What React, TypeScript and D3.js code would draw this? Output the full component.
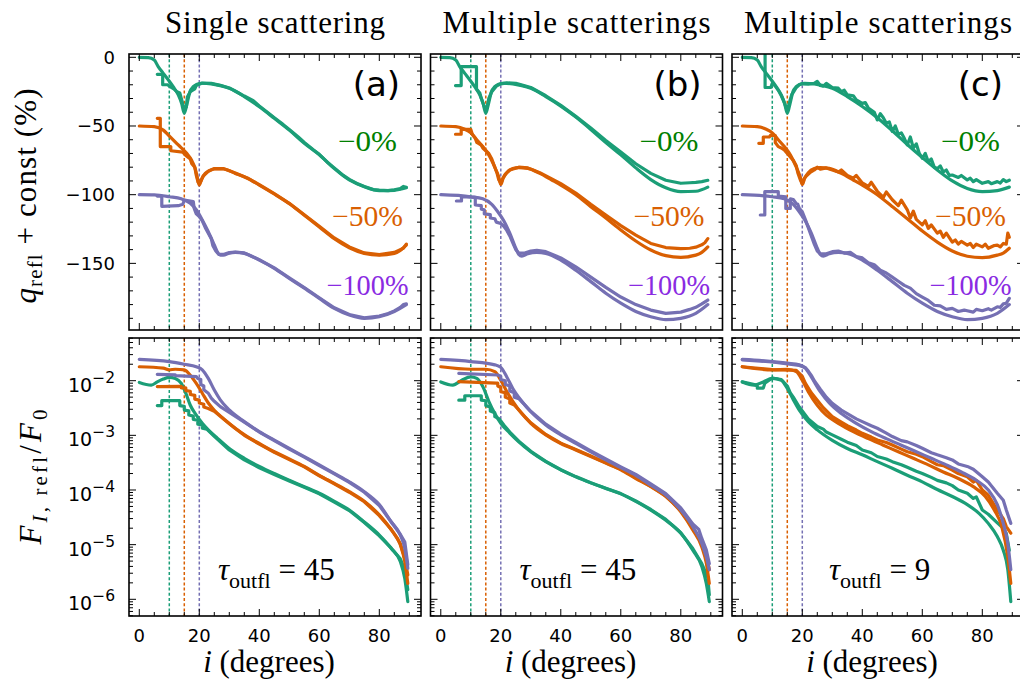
import React from "react";
import * as d3 from "d3";

type Pt = [number, number];

// ---------------- text / tick content ----------------
const panelTitles = ["Single scattering", "Multiple scatterings", "Multiple scatterings"];
const panelTags = ["(a)", "(b)", "(c)"];
const tauValues = ["45", "45", "9"];
const offsetLabels = ["\u22120%", "\u221250%", "\u2212100%"];
const cutoffAngles = [10, 15, 20];
const angleTicks = [0, 20, 40, 60, 80];
const qTicks = [0, -50, -100, -150];
const fluxExponents = [-2, -3, -4, -5, -6];

const SERIES_COLORS = ["#1b9e77", "#d95f02", "#7570b3"];
const LABEL_COLORS = ["#008000", "#d95f02", "#8a2be2"];

// ---------------- top row: q_refl + const (%) ----------------
// panel (a)
const qA_green_model: Pt[] = [[0,0],[3,-0.2],[5,-2],[6.3,-6.8],[8,-11.7],[9.7,-16.5],[11.3,-21.4],[13,-27.4],[14.1,-33.5],[15,-40.8],[15.8,-34.7],[16.9,-25],[18,-21.4],[19.1,-19.7],[20.8,-18.9],[24,-19.3],[27,-20.6],[30,-22.6],[35,-28.6],[40,-36],[45,-44.4],[50,-53],[55,-62.6],[60,-71],[65,-81],[70,-89.3],[75,-94.2],[80,-97],[85,-96.8],[89,-95]];
const qA_green_sim: Pt[] = [[6,-12.4],[7.8,-12.4],[7.8,-20],[9.5,-20],[10,-21],[11.5,-23],[12.5,-25],[13.5,-26],[14,-30],[15,-38],[15.7,-36],[16,-29],[17,-25],[18.5,-23],[19,-20.5],[21,-18.7],[24,-19],[27,-20.4],[30,-22.3],[33,-25.8],[35,-28.2],[38,-31.6],[40,-35.4],[43,-40.6],[45,-44],[48,-49],[50,-52.6],[53,-58],[55,-62],[58,-67.3],[60,-70.6],[63,-77],[65,-80.5],[68,-86],[70,-88.8],[73,-92.3],[75,-94],[78,-96.3],[80,-96.7],[83,-97],[85,-96.4],[87,-95.6],[88,-94],[89,-94.6]];
const qA_orange_model: Pt[] = [[0,-50],[5,-50.5],[8,-53],[9.7,-56.6],[13,-63.8],[15.8,-69.9],[17.4,-74.8],[18.6,-80.8],[19.3,-87],[20,-93],[20.8,-88.5],[22,-84.5],[23.5,-82.3],[25.2,-81.3],[28,-81.3],[32,-84.5],[36,-88],[40,-93],[45,-99.5],[50,-106.5],[55,-115],[60,-123.5],[65,-132],[70,-138.6],[75,-142.7],[80,-144],[85,-142.7],[87,-140.5],[89,-136.7]];
const qA_orange_sim: Pt[] = [[6,-44.4],[7,-44.4],[7,-65],[10.5,-65],[10.5,-68],[14.5,-69],[15.5,-71.5],[17,-74],[17.5,-77.5],[18.5,-80],[19,-86],[19.6,-91],[20,-92],[20.6,-90],[21.3,-86.5],[23,-83],[25,-81],[28,-81],[32,-84.2],[36,-87.8],[40,-92.7],[45,-99.2],[50,-106.3],[55,-114.6],[60,-123],[65,-131.5],[70,-138],[75,-142.4],[80,-143.6],[85,-142],[87,-140],[88,-139],[89,-136]];
const qA_purple_model: Pt[] = [[0,-100],[5,-100.2],[10,-101.5],[14,-103],[17,-106.3],[19,-111],[21,-118.4],[23,-127],[25,-136.6],[26,-141.5],[27,-144],[28,-144],[30,-142.5],[32,-142],[35,-142.7],[40,-147.6],[45,-153.6],[50,-161],[55,-168],[60,-175.5],[65,-182.8],[70,-187.6],[75,-190],[80,-188.8],[85,-185],[89,-180]];
const qA_purple_sim: Pt[] = [[6,-101],[7.5,-101],[7.5,-108.5],[13,-108],[14.5,-107],[15,-104],[18,-105],[18.3,-110],[19,-114],[20,-116],[21,-119],[22,-124],[23,-128],[24,-132],[24.5,-137],[25.5,-141],[26.5,-143.5],[28,-143.5],[30,-142.2],[32,-141.7],[35,-142.4],[40,-147.3],[45,-153.3],[50,-160.6],[55,-167.6],[60,-175],[65,-182.3],[70,-187.2],[75,-189.6],[80,-188.3],[83,-186.5],[85,-184.6],[87,-182],[88,-180],[89,-179.5]];

// panel (b)
const qB_green_model: Pt[] = [[0,0],[3,-0.2],[5,-2],[6.3,-6.8],[8,-11.7],[9.7,-16.5],[11.3,-21.4],[13,-27.4],[14.1,-33.5],[15,-40.8],[15.8,-34.7],[16.9,-25],[18,-21.4],[19.1,-19.7],[20.8,-18.9],[24,-19.3],[27,-20.6],[30,-22.6],[35,-28.6],[40,-35.5],[45,-43.5],[50,-52.5],[55,-62],[60,-71],[65,-80.5],[70,-89],[75,-95],[80,-97.8],[85,-97.5],[89,-94.5]];
const qB_green_sim: Pt[] = [[4.9,-20.6],[6.8,-20.6],[6.8,-6.8],[11.9,-6.8],[11.9,-23],[13,-26],[13.5,-30],[14.5,-36],[15.2,-38],[16,-30],[17,-25],[18.5,-21],[20,-19.3],[22,-18.6],[25,-19],[28,-20.8],[30,-22],[35,-28],[40,-35],[45,-43],[50,-51.5],[55,-60.5],[60,-69],[65,-77.5],[70,-84.5],[75,-89.5],[80,-91.7],[83,-91.3],[85,-91],[87,-90.5],[89,-89.5]];
const qB_orange_model: Pt[] = [[0,-50],[5,-50.5],[8,-52.4],[10,-55],[12,-60],[14,-65],[16,-71],[18,-80],[19.3,-87],[20,-92.5],[20.8,-88],[22,-84],[24,-81],[26,-80.3],[29,-80.8],[33,-84.5],[37,-89.3],[40,-93],[45,-100],[50,-108.7],[55,-117],[60,-125.7],[65,-133.7],[70,-140.3],[75,-144.4],[80,-145.6],[85,-144],[87,-142],[89,-138]];
const qB_orange_sim: Pt[] = [[4.9,-56],[6.8,-56],[6.8,-52.5],[10,-52.5],[10.5,-56],[11.5,-59],[12,-62],[13.5,-64],[14,-66],[15,-68],[16,-70],[17,-74],[18,-80],[18.7,-84],[19.3,-89],[20,-91.5],[20.7,-88],[21.5,-85],[23,-82],[26,-80],[29,-80.5],[33,-84],[37,-88.5],[40,-92],[45,-98.8],[50,-107],[55,-114.8],[60,-122.5],[65,-129.5],[70,-135.5],[75,-138.5],[80,-139.3],[83,-139],[85,-138.2],[87,-136.5],[88,-135],[89,-132]];
const qB_purple_model: Pt[] = [[0,-100],[10,-101.5],[14,-103],[17,-107],[19,-112.4],[21,-119],[23,-128],[25,-139],[26,-143.5],[27,-144.7],[29,-143],[32,-142],[35,-142.7],[40,-147.6],[45,-155],[50,-163.3],[55,-171.8],[60,-179],[65,-185],[70,-188.8],[75,-191],[80,-190],[85,-186.4],[89,-180]];
const qB_purple_sim: Pt[] = [[5.2,-104.6],[6.9,-104.6],[6.9,-101.5],[11.5,-102],[11.5,-107.5],[13.5,-108],[13.5,-110.5],[14.5,-111],[14.5,-114],[16.5,-114.5],[16.5,-117],[18,-117.5],[18.5,-120],[20,-121],[21,-123],[22,-126],[23,-130],[24,-135],[25,-140],[26,-142.5],[28,-142.5],[30,-141],[32,-140.5],[35,-141.5],[40,-146],[45,-152.5],[50,-160],[55,-167.5],[60,-174.5],[65,-180],[70,-184],[75,-186.4],[80,-185.5],[83,-183.5],[85,-182],[87,-179.5],[89,-176.7]];

// panel (c)
const qC_green_model: Pt[] = [[0,0],[3,-0.2],[5,-2],[6.3,-6.8],[8,-11.7],[9.7,-16.5],[11.3,-21.4],[13,-27.4],[14.1,-33.5],[15,-40.8],[15.8,-34.7],[16.9,-25],[18,-21.4],[19.1,-19.7],[20.8,-18.9],[24,-19.3],[27,-20.6],[30,-22.6],[35,-28.6],[40,-35.8],[45,-44],[50,-53.5],[55,-63.5],[60,-73],[65,-82],[70,-90],[75,-95.5],[80,-97.8],[85,-97],[89,-94.5]];
const qC_green_sim: Pt[] = [[7.6,10],[7.6,-22],[9.5,-22],[10,-19],[11,-21],[12,-24],[13,-28],[14,-33],[15,-39],[15.7,-33],[16.5,-27],[17,-25.5],[18,-22],[19,-20],[20,-19.3],[22,-19.5],[24,-19],[25,-17.5],[26,-20.5],[27,-21],[28,-19],[30,-22],[32,-22.5],[33,-25],[34,-24],[35,-27.4],[37,-28],[38,-31],[40,-33.5],[41,-33],[42,-37],[44,-40],[45,-45.6],[46,-41],[47,-44],[48,-48],[49,-47],[50,-54],[51,-50],[52,-56],[53,-55],[54,-59],[55,-63.8],[56,-58],[57,-66],[58,-63],[59,-70],[60,-73.5],[61,-70],[62,-76],[63,-74],[64,-80],[65,-81],[66,-79],[67,-83.5],[68,-82],[69,-86],[70,-85.7],[72,-87.5],[73,-86],[75,-89.3],[76,-88],[77,-90.5],[78,-89],[80,-91.7],[82,-90.5],[83,-92],[85,-90.5],[86,-91.5],[87,-89],[88,-90.5],[89,-89.5]];
const qC_orange_model: Pt[] = [[0,-50],[5,-50.5],[8,-52.4],[10,-55],[12,-60],[14,-65],[16,-71],[18,-80],[19.3,-87],[20,-92.5],[20.8,-88],[22,-84],[24,-81],[26,-80.3],[29,-80.8],[33,-84.5],[37,-89.3],[40,-93],[45,-100],[50,-108.7],[55,-117.5],[60,-126.5],[65,-134.5],[70,-141],[75,-144.8],[80,-145.8],[85,-144],[87,-142.5],[89,-139]];
const qC_orange_sim: Pt[] = [[5.5,-62.6],[7,-62.6],[7,-58],[9,-58],[9.5,-56.6],[11,-57],[11,-62],[12,-65],[13,-66],[14,-67.5],[15,-70],[16,-72.5],[17,-75],[18,-79],[18.5,-84],[19.3,-89],[20,-92],[20.7,-88],[21.5,-86],[22.5,-84],[24,-82],[25,-80],[26,-81.5],[28,-80.5],[30,-82],[32,-83.5],[33,-82],[35,-86],[37,-88],[38,-86],[40,-91.5],[42,-94],[43,-91],[45,-97.5],[47,-102],[48,-98],[50,-103.7],[52,-108],[53,-104],[55,-111],[56,-117],[57,-112],[58,-118],[60,-122],[61,-119],[62,-124.5],[63,-122],[65,-128],[66,-126.5],[67,-131],[68,-128],[70,-134.5],[71,-133],[72,-136],[73,-134],[75,-136.7],[76,-135.5],[77,-138.5],[78,-136],[80,-138],[81,-136],[82,-139],[84,-137],[85,-136.7],[86,-138],[87,-135.5],[88,-136],[88.5,-128],[89,-131]];
const qC_purple_model: Pt[] = [[0,-100],[10,-101.5],[14,-103],[17,-107],[19,-112.4],[21,-119],[23,-128],[25,-139],[26,-143.5],[27,-144.7],[29,-143],[32,-142],[35,-142.7],[40,-147.6],[45,-155],[50,-163.3],[55,-171.8],[60,-179],[65,-185],[70,-188.8],[75,-191],[80,-190],[85,-186.4],[89,-180]];
const qC_purple_sim: Pt[] = [[6,-114.8],[7.5,-114.8],[7.5,-97.8],[12,-97.8],[12,-101],[14.5,-101.5],[14.5,-110],[16,-110],[16,-103],[17,-103.5],[18,-106.5],[18.5,-107],[19,-110],[20,-112.5],[21,-118],[22,-124],[23,-130],[24,-136],[25,-141],[26,-143],[28,-143],[30,-141.5],[32,-141],[34,-142.5],[36,-142],[38,-145],[40,-146],[42,-149.5],[44,-151],[46,-155],[48,-157],[50,-160],[52,-163],[54,-166],[56,-168],[58,-172],[60,-174.5],[62,-177],[64,-180.5],[66,-181],[68,-183.5],[70,-182.8],[72,-185],[74,-184],[75,-184.5],[77,-185.5],[78,-183.5],[80,-184.5],[82,-183],[83,-184],[85,-181.6],[86,-182],[87,-179.5],[88,-179],[89,-175.5]];

// ---------------- bottom row: F_I,refl / F_0 ----------------
// panel (a)
const fA_green_model: Pt[] = [[0,9.3e-3],[4,8.3e-3],[6,9.5e-3],[8,1.07e-2],[10,1.15e-2],[12,1.1e-2],[14,8.9e-3],[15.5,5.9e-3],[17,3.55e-3],[19,2.34e-3],[21,1.66e-3],[23,1.26e-3],[26,8.9e-4],[30,5.75e-4],[35,3.8e-4],[40,2.7e-4],[45,2.0e-4],[50,1.51e-4],[55,1.15e-4],[60,8.7e-5],[65,6.2e-5],[70,4.3e-5],[75,2.6e-5],[80,1.5e-5],[84,8.5e-6],[87,4.9e-6],[88.5,2.4e-6],[89.5,9.1e-7]];
const fA_green_sim: Pt[] = [[6,3.5e-3],[7.5,3.5e-3],[7.5,4.3e-3],[13.5,4.3e-3],[13.5,3.5e-3],[15,3.4e-3],[15,2.9e-3],[16.5,2.8e-3],[16.5,2.35e-3],[18,2.25e-3],[18,1.95e-3],[19.5,1.9e-3],[19.5,1.6e-3],[21,1.55e-3],[21,1.35e-3],[22.5,1.3e-3],[25,9.6e-4],[30,5.4e-4],[35,3.55e-4],[40,2.55e-4],[45,1.92e-4],[50,1.46e-4],[55,1.12e-4],[60,8.5e-5],[65,6.0e-5],[70,4.2e-5],[75,2.55e-5],[80,1.45e-5],[84,8.6e-6],[87,5.5e-6],[88.5,3.5e-6],[89.5,1.5e-6]];
const fA_orange_model: Pt[] = [[0,1.8e-2],[8,1.7e-2],[10,1.58e-2],[12,1.62e-2],[15,1.58e-2],[17,1.26e-2],[19,8.9e-3],[21,5.9e-3],[23,3.9e-3],[25,2.88e-3],[28,2.04e-3],[32,1.35e-3],[36,9.5e-4],[40,7.1e-4],[45,5.0e-4],[50,3.7e-4],[55,2.7e-4],[60,1.86e-4],[65,1.32e-4],[70,9.3e-5],[75,6.2e-5],[80,3.5e-5],[84,1.86e-5],[87,1.0e-5],[88.5,4.9e-6],[89.5,1.95e-6]];
const fA_orange_sim: Pt[] = [[6,7.8e-3],[14,7.9e-3],[14,7.4e-3],[15.5,7.4e-3],[15.5,6.6e-3],[17,6.4e-3],[17,5.6e-3],[18.5,5.4e-3],[18.5,4.6e-3],[20,4.4e-3],[20,3.9e-3],[21.5,3.7e-3],[21.5,3.3e-3],[23,3.1e-3],[25,2.75e-3],[28,2.0e-3],[32,1.33e-3],[35,1.0e-3],[40,6.9e-4],[45,4.9e-4],[50,3.6e-4],[55,2.65e-4],[60,1.82e-4],[65,1.3e-4],[70,9.1e-5],[75,6.1e-5],[80,3.4e-5],[84,1.9e-5],[87,1.05e-5],[88.5,5.6e-6],[89.5,2.8e-6]];
const fA_purple_model: Pt[] = [[0,2.45e-2],[10,2.23e-2],[15,2.0e-2],[19,1.8e-2],[21,1.58e-2],[23,1.1e-2],[25,6.76e-3],[27,4.47e-3],[30,2.91e-3],[35,1.78e-3],[40,1.17e-3],[45,8.2e-4],[50,5.75e-4],[55,4.07e-4],[60,2.88e-4],[65,2.02e-4],[70,1.41e-4],[75,9.3e-5],[80,5.4e-5],[84,2.6e-5],[87,1.5e-5],[88.5,8.5e-6],[89.5,3.7e-6]];
const fA_purple_sim: Pt[] = [[6,1.31e-2],[12,1.28e-2],[12,1.24e-2],[19,1.19e-2],[19.5,1.1e-2],[20.5,1.05e-2],[20.5,8.5e-3],[21.5,8.0e-3],[21.5,6.8e-3],[23,5.9e-3],[24,4.8e-3],[25,4.2e-3],[27,3.35e-3],[30,2.63e-3],[35,1.74e-3],[40,1.15e-3],[45,8.0e-4],[50,5.6e-4],[55,4.0e-4],[60,2.8e-4],[65,1.98e-4],[70,1.38e-4],[75,9.1e-5],[80,5.2e-5],[84,2.6e-5],[87,1.55e-5],[88.5,1.12e-5],[89.5,4.3e-6]];

// panel (b)
const fB_green_model: Pt[] = [[0,9.5e-3],[4,8.3e-3],[7,1.02e-2],[10,1.17e-2],[12,1.1e-2],[14,7.8e-3],[16,4.2e-3],[18,2.5e-3],[20,1.66e-3],[23,1.1e-3],[26,7.6e-4],[30,5.0e-4],[35,3.3e-4],[40,2.34e-4],[45,1.74e-4],[50,1.35e-4],[55,1.07e-4],[60,8.5e-5],[65,6.2e-5],[70,4.3e-5],[75,2.8e-5],[80,1.62e-5],[84,7.9e-6],[87,4.0e-6],[88.5,1.95e-6],[89.5,9.1e-7]];
const fB_green_sim: Pt[] = [[6,4.4e-3],[8,4.4e-3],[8,5.3e-3],[13.5,5.3e-3],[13.5,4.4e-3],[15,4.3e-3],[15,3.5e-3],[16.5,3.3e-3],[16.5,2.8e-3],[18,2.6e-3],[18,2.2e-3],[19.5,2.0e-3],[21,1.55e-3],[23,1.15e-3],[26,7.8e-4],[30,5.1e-4],[35,3.35e-4],[40,2.35e-4],[45,1.76e-4],[50,1.36e-4],[55,1.08e-4],[60,8.6e-5],[65,6.3e-5],[70,4.4e-5],[75,2.9e-5],[80,1.65e-5],[84,8.5e-6],[87,4.5e-6],[89,2.5e-6],[89.5,1.2e-6]];
const fB_orange_model: Pt[] = [[0,1.8e-2],[10,1.62e-2],[15,1.62e-2],[18,1.46e-2],[20,1.02e-2],[22,6.3e-3],[24,4.2e-3],[27,2.5e-3],[30,1.66e-3],[35,1.02e-3],[40,7.1e-4],[45,5.4e-4],[50,4.1e-4],[55,3.1e-4],[60,2.34e-4],[65,1.62e-4],[70,1.15e-4],[75,7.6e-5],[80,4.0e-5],[84,1.86e-5],[87,9.1e-6],[88.5,4.6e-6],[89.5,1.95e-6]];
const fB_orange_sim: Pt[] = [[6,9.6e-3],[18.5,9.0e-3],[19,9.0e-3],[19,8.0e-3],[20,7.5e-3],[20,6.3e-3],[21.5,6.0e-3],[21.5,5.0e-3],[23,4.6e-3],[23,3.9e-3],[24.5,3.6e-3],[26,2.9e-3],[28,2.2e-3],[30,1.7e-3],[35,1.04e-3],[40,7.2e-4],[45,5.5e-4],[50,4.2e-4],[55,3.15e-4],[60,2.4e-4],[65,1.66e-4],[70,1.17e-4],[75,7.8e-5],[80,4.2e-5],[84,2.0e-5],[87,1.05e-5],[88.5,6.5e-6],[89.5,3.5e-6]];
const fB_purple_model: Pt[] = [[0,2.45e-2],[10,2.24e-2],[18,1.95e-2],[20,1.75e-2],[22,1.17e-2],[24,7.2e-3],[27,4.2e-3],[30,2.7e-3],[35,1.55e-3],[40,1.02e-3],[45,7.1e-4],[50,5.0e-4],[55,3.55e-4],[60,2.57e-4],[65,1.86e-4],[70,1.23e-4],[75,8.1e-5],[80,4.3e-5],[84,2.14e-5],[87,1.05e-5],[88.5,6.0e-6],[89.5,3.5e-6]];
const fB_purple_sim: Pt[] = [[6,1.36e-2],[19,1.27e-2],[20,1.2e-2],[20,1.05e-2],[21.5,1.0e-2],[21.5,8.5e-3],[23,8.0e-3],[23,6.5e-3],[24.5,6.0e-3],[24.5,5.0e-3],[26,4.7e-3],[28,3.6e-3],[30,2.75e-3],[35,1.6e-3],[40,1.05e-3],[45,7.4e-4],[50,5.2e-4],[55,3.7e-4],[60,2.65e-4],[65,1.93e-4],[70,1.3e-4],[75,8.6e-5],[80,4.7e-5],[84,2.4e-5],[86,1.9e-5],[87,1.3e-5],[88.5,8.0e-6],[89.5,4.5e-6]];

// panel (c)
const fC_green_model: Pt[] = [[0,9.5e-3],[4,8.3e-3],[7,9.5e-3],[10,1.1e-2],[13,1.02e-2],[15,7.2e-3],[17,4.5e-3],[19,2.9e-3],[22,1.78e-3],[25,1.26e-3],[30,8.1e-4],[35,5.75e-4],[40,4.4e-4],[45,3.3e-4],[50,2.5e-4],[55,1.86e-4],[60,1.41e-4],[65,1.02e-4],[70,7.6e-5],[75,5.4e-5],[79,3.7e-5],[82,2.45e-5],[85,1.41e-5],[87,7.9e-6],[88.5,3.5e-6],[89.5,9.1e-7]];
const fC_green_sim: Pt[] = [[0,9.5e-3],[4,8.5e-3],[5,8.0e-3],[5,7.3e-3],[7,7.3e-3],[7.5,9.0e-3],[10,1.12e-2],[13,1.05e-2],[15,8.0e-3],[16,6.0e-3],[17,5.0e-3],[19,3.3e-3],[22,2.0e-3],[25,1.45e-3],[27,1.3e-3],[28,1.15e-3],[30,1.02e-3],[33,8.5e-4],[35,7.5e-4],[38,6.5e-4],[40,5.4e-4],[43,4.8e-4],[45,4.1e-4],[48,3.7e-4],[50,3.3e-4],[53,2.9e-4],[55,2.6e-4],[58,2.2e-4],[60,2.0e-4],[63,1.7e-4],[65,1.5e-4],[68,1.35e-4],[70,1.2e-4],[72,1.0e-4],[75,8.7e-5],[77,7.0e-5],[78,7.5e-5],[80,4.3e-5],[82,3.6e-5],[85,2.5e-5],[87,2.0e-5],[88,1.6e-5],[89,7.9e-6]];
const fC_orange_model: Pt[] = [[0,1.8e-2],[10,1.58e-2],[15,1.62e-2],[18,1.46e-2],[20,1.02e-2],[22,6.3e-3],[25,3.55e-3],[28,2.34e-3],[32,1.66e-3],[37,1.17e-3],[42,8.7e-4],[47,6.6e-4],[52,5.0e-4],[57,3.8e-4],[62,2.88e-4],[67,2.14e-4],[72,1.62e-4],[77,1.15e-4],[81,7.6e-5],[84,4.3e-5],[86.5,2.14e-5],[88.5,6.0e-6],[89.5,1.95e-6]];
const fC_orange_sim: Pt[] = [[0,1.8e-2],[10,1.6e-2],[18,1.55e-2],[20,1.2e-2],[21,9.0e-3],[23,6.0e-3],[25,4.4e-3],[27,3.2e-3],[30,2.2e-3],[33,1.75e-3],[35,1.5e-3],[38,1.25e-3],[40,1.09e-3],[43,9.3e-4],[45,8.2e-4],[48,7.4e-4],[50,6.65e-4],[53,5.6e-4],[55,5.0e-4],[58,4.5e-4],[60,4.07e-4],[63,3.3e-4],[65,2.9e-4],[67,2.8e-4],[70,2.32e-4],[72,2.0e-4],[75,1.75e-4],[77,1.4e-4],[78,1.5e-4],[80,1.0e-4],[82,8.0e-5],[85,4.3e-5],[87,3.0e-5],[88,2.14e-5],[89.5,1.62e-5]];
const fC_purple_model: Pt[] = [[0,2.45e-2],[10,2.24e-2],[15,2.09e-2],[19,1.95e-2],[21,1.7e-2],[23,1.17e-2],[26,6.3e-3],[29,3.9e-3],[33,2.5e-3],[38,1.66e-3],[43,1.17e-3],[48,8.7e-4],[53,6.6e-4],[58,5.0e-4],[63,3.8e-4],[68,2.88e-4],[73,2.14e-4],[78,1.51e-4],[82,1.0e-4],[85,5.4e-5],[87,2.45e-5],[88.5,1.05e-5],[89.5,3.5e-6]];
const fC_purple_sim: Pt[] = [[0,2.4e-2],[10,2.2e-2],[19,1.9e-2],[21,1.75e-2],[22,1.5e-2],[23,1.25e-2],[24,1.0e-2],[26,7.0e-3],[28,5.0e-3],[30,3.85e-3],[33,2.9e-3],[35,2.5e-3],[38,2.0e-3],[40,1.78e-3],[43,1.5e-3],[45,1.35e-3],[48,1.1e-3],[50,9.5e-4],[53,8.0e-4],[55,7.6e-4],[58,6.5e-4],[60,5.8e-4],[63,4.8e-4],[65,4.4e-4],[68,3.9e-4],[70,3.55e-4],[72,3.0e-4],[75,2.7e-4],[77,2.4e-4],[80,1.75e-4],[82,1.4e-4],[85,8.7e-5],[87,6.5e-5],[88,4.3e-5],[89.5,2.45e-5]];

// ---------------- layout ----------------
const PANEL_LEFTS = [129, 430.5, 732];
const PANEL_W = 292;
const TOP_ROW = { top: 54, bottom: 330 };
const BOT_ROW = { top: 338, bottom: 616 };
const X_DOMAIN: [number, number] = [-3.43, 93.9];
const Q_DOMAIN: [number, number] = [-198.5, 2.4];
const F_DOMAIN: [number, number] = [4.95e-7, 0.0604];

const serifStyle = { fontFamily: "Liberation Serif", whiteSpace: "pre" as const };
const sansStyle = { fontFamily: "DejaVu Sans" };

const panels = [
  {
    q: [[qA_green_model, qA_green_sim], [qA_orange_model, qA_orange_sim], [qA_purple_model, qA_purple_sim]],
    f: [[fA_green_model, fA_green_sim], [fA_orange_model, fA_orange_sim], [fA_purple_model, fA_purple_sim]],
    tauDx: 89,
  },
  {
    q: [[qB_green_model, qB_green_sim], [qB_orange_model, qB_orange_sim], [qB_purple_model, qB_purple_sim]],
    f: [[fB_green_model, fB_green_sim], [fB_orange_model, fB_orange_sim], [fB_purple_model, fB_purple_sim]],
    tauDx: 89,
  },
  {
    q: [[qC_green_model, qC_green_sim], [qC_orange_model, qC_orange_sim], [qC_purple_model, qC_purple_sim]],
    f: [[fC_green_model, fC_green_sim], [fC_orange_model, fC_orange_sim], [fC_purple_model, fC_purple_sim]],
    tauDx: 97,
  },
];

const offsetLabelPos = [
  { dx: 209, y: 151, len: 59 },
  { dx: 203, y: 226, len: 71 },
  { dx: 197.5, y: 295, len: 82 },
];

function Frame({ x0, x1, y0, y1, xMajor, xMinor, yMajor, yMinor }: any) {
  const maj = 7, min = 4;
  const ticks: any[] = [];
  xMajor.forEach((px: number, i: number) => {
    ticks.push(<line key={"xM" + i} x1={px} x2={px} y1={y1} y2={y1 - maj} />);
    ticks.push(<line key={"xMt" + i} x1={px} x2={px} y1={y0} y2={y0 + maj} />);
  });
  xMinor.forEach((px: number, i: number) => {
    ticks.push(<line key={"xm" + i} x1={px} x2={px} y1={y1} y2={y1 - min} />);
    ticks.push(<line key={"xmt" + i} x1={px} x2={px} y1={y0} y2={y0 + min} />);
  });
  yMajor.forEach((py: number, i: number) => {
    ticks.push(<line key={"yM" + i} x1={x0} x2={x0 + maj} y1={py} y2={py} />);
    ticks.push(<line key={"yMr" + i} x1={x1} x2={x1 - maj} y1={py} y2={py} />);
  });
  yMinor.forEach((py: number, i: number) => {
    ticks.push(<line key={"ym" + i} x1={x0} x2={x0 + min} y1={py} y2={py} />);
    ticks.push(<line key={"ymr" + i} x1={x1} x2={x1 - min} y1={py} y2={py} />);
  });
  return (
    <g>
      <g stroke="#000" strokeWidth={1}>{ticks}</g>
      <rect x={x0} y={y0} width={x1 - x0} height={y1 - y0} fill="none" stroke="#000" strokeWidth={1.6} />
    </g>
  );
}

export default function App() {
  const xMinorVals = d3.range(0, 91, 5).filter((v) => v % 20 !== 0);
  const qMinorVals = d3.range(-190, 1, 10).filter((v) => v % 50 !== 0);
  const fMinorVals: number[] = [];
  for (let e = -7; e <= -2; e++) {
    for (let m = 2; m <= 9; m++) {
      const v = m * Math.pow(10, e);
      if (v > F_DOMAIN[0] && v < F_DOMAIN[1]) fMinorVals.push(v);
    }
  }
  const yQ = d3.scaleLinear().domain(Q_DOMAIN).range([TOP_ROW.bottom, TOP_ROW.top]);
  const yF = d3.scaleLog().domain(F_DOMAIN).range([BOT_ROW.bottom, BOT_ROW.top]);
  const LW = 3.2;

  return (
    <svg width={1020} height={684} style={{ position: "absolute", left: 0, top: 0, background: "#fff" }}>
      <rect x={0} y={0} width={1020} height={684} fill="#fff" />
      <defs>
        {PANEL_LEFTS.map((l, p) => (
          <g key={p}>
            <clipPath id={`clipTop${p}`}>
              <rect x={l} y={TOP_ROW.top} width={PANEL_W} height={TOP_ROW.bottom - TOP_ROW.top} />
            </clipPath>
            <clipPath id={`clipBot${p}`}>
              <rect x={l} y={BOT_ROW.top} width={PANEL_W} height={BOT_ROW.bottom - BOT_ROW.top} />
            </clipPath>
          </g>
        ))}
      </defs>
      {panels.map((panel, p) => {
        const left = PANEL_LEFTS[p];
        const right = left + PANEL_W;
        const x = d3.scaleLinear().domain(X_DOMAIN).range([left, right]);
        const lineQModel = d3.line<Pt>().x((d) => x(d[0])).y((d) => yQ(d[1])).curve(d3.curveMonotoneX);
        const lineQSim = d3.line<Pt>().x((d) => x(d[0])).y((d) => yQ(d[1]));
        const lineFModel = d3.line<Pt>().x((d) => x(d[0])).y((d) => yF(d[1])).curve(d3.curveMonotoneX);
        const lineFSim = d3.line<Pt>().x((d) => x(d[0])).y((d) => yF(d[1]));
        const cx = (left + right) / 2;
        return (
          <g key={p}>
            {/* title */}
            <text x={cx} y={33} textAnchor="middle" style={serifStyle} fontSize={31}
              textLength={p === 0 ? 220 : 268} lengthAdjust="spacing">{panelTitles[p]}</text>

            {/* ----- top panel ----- */}
            <g clipPath={`url(#clipTop${p})`}>
              {cutoffAngles.map((a, i) => (
                <line key={i} x1={x(a)} x2={x(a)} y1={TOP_ROW.top} y2={TOP_ROW.bottom}
                  stroke={SERIES_COLORS[i]} strokeWidth={1.5} strokeDasharray="3,2.2" />
              ))}
              {panel.q.map((pair, i) => (
                <g key={i} fill="none" stroke={SERIES_COLORS[i]} strokeWidth={LW} strokeLinejoin="round" strokeLinecap="round">
                  <path d={lineQModel(pair[0]) || ""} />
                  <path d={lineQSim(pair[1]) || ""} />
                </g>
              ))}
            </g>
            <Frame x0={left} x1={right} y0={TOP_ROW.top} y1={TOP_ROW.bottom}
              xMajor={angleTicks.map(x)} xMinor={xMinorVals.map(x)}
              yMajor={qTicks.map(yQ)} yMinor={qMinorVals.map(yQ)} />
            <text x={right - 21} y={95.5} textAnchor="end" style={sansStyle} fontSize={34}>{panelTags[p]}</text>
            {offsetLabels.map((lab, i) => (
              <text key={i} x={left + offsetLabelPos[i].dx} y={offsetLabelPos[i].y} style={serifStyle} fontSize={29}
                fill={LABEL_COLORS[i]} textLength={offsetLabelPos[i].len} lengthAdjust="spacingAndGlyphs">{lab}</text>
            ))}

            {/* ----- bottom panel ----- */}
            <g clipPath={`url(#clipBot${p})`}>
              {cutoffAngles.map((a, i) => (
                <line key={i} x1={x(a)} x2={x(a)} y1={BOT_ROW.top} y2={BOT_ROW.bottom}
                  stroke={SERIES_COLORS[i]} strokeWidth={1.5} strokeDasharray="3,2.2" />
              ))}
              {panel.f.map((pair, i) => (
                <g key={i} fill="none" stroke={SERIES_COLORS[i]} strokeWidth={LW} strokeLinejoin="round" strokeLinecap="round">
                  <path d={lineFModel(pair[0]) || ""} />
                  <path d={lineFSim(pair[1]) || ""} />
                </g>
              ))}
            </g>
            <Frame x0={left} x1={right} y0={BOT_ROW.top} y1={BOT_ROW.bottom}
              xMajor={angleTicks.map(x)} xMinor={xMinorVals.map(x)}
              yMajor={fluxExponents.map((e) => yF(Math.pow(10, e)))} yMinor={fMinorVals.map(yF)} />
            <text x={left + panel.tauDx} y={580} style={serifStyle} fontSize={31}>
              <tspan fontStyle="italic">{"\u03C4"}</tspan>
              <tspan fontSize={22} dy={8}>outfl</tspan>
              <tspan dy={-8}>{" = " + tauValues[p]}</tspan>
            </text>

            {/* x tick labels and label */}
            {angleTicks.map((t) => (
              <text key={t} x={x(t)} y={642} textAnchor="middle" style={sansStyle} fontSize={18}>{t}</text>
            ))}
            <text x={cx - 6} y={672} textAnchor="middle" style={serifStyle} fontSize={31}>
              <tspan fontStyle="italic">i</tspan>
              <tspan>{" (degrees)"}</tspan>
            </text>
          </g>
        );
      })}

      {/* y tick labels (first column only) */}
      {qTicks.map((t) => (
        <text key={t} x={115} y={yQ(t) + 6.5} textAnchor="end" style={sansStyle} fontSize={18}>
          {t === 0 ? "0" : "\u2212" + Math.abs(t)}
        </text>
      ))}
      {fluxExponents.map((e) => (
        <text key={e} x={115} y={yF(Math.pow(10, e)) + 11} textAnchor="end" style={sansStyle} fontSize={19}>
          <tspan>10</tspan>
          <tspan fontSize={15.5} dy={-9}>{"\u2212" + Math.abs(e)}</tspan>
        </text>
      ))}

      {/* y axis labels */}
      <text transform="translate(36,196) rotate(-90)" textAnchor="middle" style={serifStyle} fontSize={31}
        textLength={215} lengthAdjust="spacing">
        <tspan fontStyle="italic">q</tspan>
        <tspan fontSize={21} dy={6}>refl</tspan>
        <tspan dy={-6}>{" + const (%)"}</tspan>
      </text>
      <text transform="translate(41,477) rotate(-90)" textAnchor="middle" style={serifStyle} fontSize={31}
        textLength={135} lengthAdjust="spacing">
        <tspan fontStyle="italic">F</tspan>
        <tspan fontSize={21} dy={6} fontStyle="italic">I</tspan>
        <tspan fontSize={21}>{", refl"}</tspan>
        <tspan dy={-6}>/</tspan>
        <tspan fontStyle="italic">F</tspan>
        <tspan fontSize={21} dy={6}>0</tspan>
      </text>
    </svg>
  );
}
